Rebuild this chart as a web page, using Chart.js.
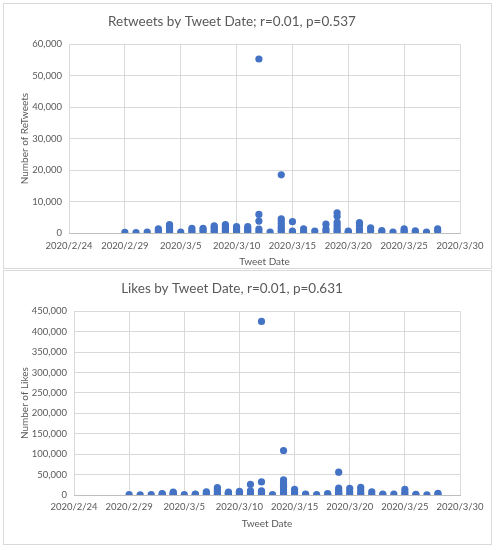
<!DOCTYPE html>
<html>
<head>
<meta charset="utf-8">
<script src="https://cdn.jsdelivr.net/npm/chart.js@4.4.1/dist/chart.umd.min.js"></script>
<style>
  body { margin: 0; background: #fff; }
  .frame { position: absolute; left: 3px; width: 487px; border: 1px solid #d9d9d9; }
  #top { top: 3px; height: 264px; }
  #bottom { top: 270px; height: 273px; }
  canvas { display: block; }
</style>
</head>
<body>
<div class="frame" id="top"><canvas id="rtChart"></canvas></div>
<div class="frame" id="bottom"><canvas id="likeChart"></canvas></div>
<script>
'use strict';

// one entry per tweet day, values are the tweets of that day
let tweetDates = ['2020/2/29', '2020/3/1', '2020/3/2', '2020/3/3', '2020/3/4', '2020/3/5', '2020/3/6',
  '2020/3/7', '2020/3/8', '2020/3/9', '2020/3/10', '2020/3/11', '2020/3/12', '2020/3/13', '2020/3/14',
  '2020/3/15', '2020/3/16', '2020/3/17', '2020/3/18', '2020/3/19', '2020/3/20', '2020/3/21', '2020/3/22',
  '2020/3/23', '2020/3/24', '2020/3/25', '2020/3/26', '2020/3/27', '2020/3/28'];

let retweets = [
  [200], [150], [250], [300, 900, 1300], [200, 800, 1500, 2100, 2700], [300], [200, 700, 1500],
  [300, 900, 1500], [200, 700, 1300, 1800, 2300], [200, 800, 1400, 2000, 2700], [300, 900, 1500, 2000],
  [200, 800, 1400, 2000], [55300, 5900, 3800, 1200, 300], [300], [18500, 4500, 3800, 3000, 2200, 1500, 800, 200],
  [3600, 600, 200], [1300, 300], [600], [2800, 1200, 400], [6400, 5300, 3400, 2500, 1500, 700, 200],
  [600, 300, 100], [3300, 2400, 1200, 400], [1600, 700], [800, 200], [300], [1300, 700, 200],
  [700, 200], [300], [1300, 600]
];

let likes = [
  [800], [600], [900], [500, 2000, 3500], [400, 1500, 2500, 4500, 7000], [700], [500, 1500, 2500],
  [600, 4000, 8000], [500, 3000, 8000, 13000, 18000], [600, 2500, 4000, 5000, 7000], [700, 3000, 6000, 9000],
  [500, 3000, 10000, 26000], [425000, 32000, 10000, 6000, 1000], [800],
  [109000, 37000, 30000, 24000, 18000, 12000, 6000, 1000],
  [14000, 7000, 1000], [2000, 800], [1200], [3500, 1500, 500], [56000, 17000, 12000, 8000, 5000, 2000, 500],
  [16000, 8000, 1000], [19000, 12000, 5000, 1000], [8000, 2000], [2000, 500], [2500], [14000, 7000, 1000],
  [1500, 500], [500], [4000, 1500]
];

let dateTicks = ['2020/2/24', '2020/2/29', '2020/3/5', '2020/3/10', '2020/3/15', '2020/3/20', '2020/3/25', '2020/3/30'];

let textColor = '#595959';
let gridColor = '#d9d9d9';
let fontName = 'Lato';

function dayNumber(str) {
  let p = str.split('/');
  let start = Date.UTC(2020, 1, 24);
  return (Date.UTC(+p[0], +p[1] - 1, +p[2]) - start) / 86400000;
}

function toPoints(values) {
  let pts = [];
  for (let i = 0; i < tweetDates.length; i++) {
    for (let j = 0; j < values[i].length; j++) {
      pts.push({x: dayNumber(tweetDates[i]), y: values[i][j]});
    }
  }
  return pts;
}

function makeChart(id, title, yTitle, values, yMax, yStep, yWidth, tickPad, bottomPad) {
  let config = {
    type: 'scatter',
    data: {
      datasets: [{
        data: toPoints(values),
        backgroundColor: '#4472C4',
        borderWidth: 0,
        pointRadius: 3.6,
        pointHoverRadius: 3.6
      }]
    },
    options: {
      responsive: true,
      maintainAspectRatio: false,
      animation: false,
      layout: {padding: {left: 0, right: 31, top: 0, bottom: bottomPad}},
      plugins: {
        legend: {display: false},
        tooltip: {enabled: false},
        title: {
          display: true,
          text: title,
          color: textColor,
          font: {family: fontName, size: 13.5, weight: 'normal', lineHeight: 1.2},
          padding: {top: 10, bottom: 14}
        }
      },
      scales: {
        x: {
          type: 'linear',
          min: 0,
          max: 35,
          grid: {color: gridColor, drawTicks: false},
          border: {color: '#bfbfbf'},
          afterFit: (s) => { s.height = 35; },
          ticks: {
            stepSize: 5,
            autoSkip: false,
            maxRotation: 0,
            padding: tickPad,
            color: textColor,
            font: {family: fontName, size: 9.5},
            callback: (v) => dateTicks[v / 5]
          },
          title: {
            display: true,
            text: 'Tweet Date',
            color: textColor,
            font: {family: fontName, size: 10},
            padding: {top: 0, bottom: 0}
          }
        },
        y: {
          min: 0,
          max: yMax,
          grid: {color: gridColor, drawTicks: false},
          border: {display: false},
          afterFit: (s) => { s.width = yWidth; },
          ticks: {
            stepSize: yStep,
            padding: 7,
            color: textColor,
            font: {family: fontName, size: 9.5},
            callback: (v) => v.toLocaleString('en-US')
          },
          title: {
            display: true,
            text: yTitle,
            color: textColor,
            font: {family: fontName, size: 10},
            padding: {top: 15, bottom: 0}
          }
        }
      }
    }
  };
  new Chart(document.getElementById(id), config);
}

makeChart('rtChart', 'Retweets by Tweet Date; r=0.01, p=0.537', 'Number of ReTweets', retweets, 60000, 10000, 65, 7, 0);
makeChart('likeChart', 'Likes by Tweet Date, r=0.01, p=0.631', 'Number of Likes', likes, 450000, 50000, 70, 6, 14);
</script>
</body>
</html>
